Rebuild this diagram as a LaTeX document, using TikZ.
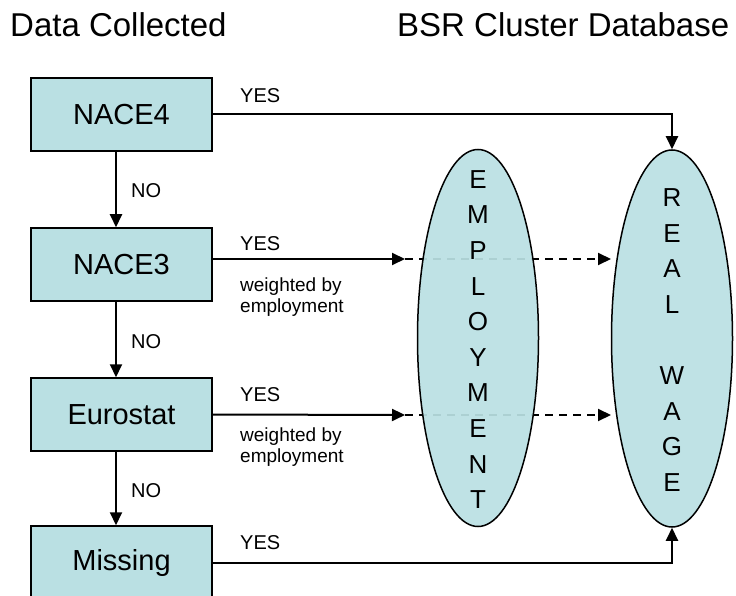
\documentclass[tikz,border=0pt]{standalone}
\usepackage{fontspec}
\setmainfont{Liberation Sans}
\usetikzlibrary{shapes.geometric,arrows.meta,calc}
\definecolor{boxfill}{RGB}{186,224,227}
\begin{document}
\begin{tikzpicture}[x=1pt,y=-1pt,
  srcbox/.style={draw=black,line width=1.5pt,fill=boxfill,minimum width=181pt,minimum height=73pt,inner sep=0pt,font=\fontsize{29}{32}\selectfont},
  oval/.style={draw=black,line width=1.5pt,fill=boxfill,fill opacity=0.93,ellipse,minimum width=121pt,minimum height=377pt,inner sep=0pt},
  arr/.style={line width=2pt,-{Triangle[length=13pt,width=12pt]}},
  darr/.style={arr,dash pattern=on 8pt off 6pt},
  yeslbl/.style={anchor=west,inner sep=0pt,font=\fontsize{20}{24}\selectfont},
  nolbl/.style={anchor=west,inner sep=0pt,font=\fontsize{20}{24}\selectfont},
  wlbl/.style={anchor=west,inner sep=0pt,align=left,font=\fontsize{19}{21}\selectfont},
  vlbl/.style={inner sep=0pt,align=center,font=\fontsize{26}{35.6}\selectfont},
  ttl/.style={anchor=base west,inner sep=0pt,font=\fontsize{33}{36}\selectfont}]
\useasboundingbox (0,0) rectangle (736,596);

% titles
\node[ttl] (t1) at (10,37) {Data Collected};
\node[ttl] (t2) at (397,37) {BSR Cluster Database};

% source boxes
\node[srcbox] (nace4) at (121.5,114.5) {NACE4};
\node[srcbox] (nace3) at (121.5,264.5) {NACE3};
\node[srcbox] (euro) at (121.5,414.5) {Eurostat};
\node[srcbox] (miss) at (121.5,562.5) {Missing};

% free ends of the solid arrows
\coordinate (e3) at (405,259);
\coordinate (e5) at (405,415);

% dashed arrows (drawn below the ovals)
\path (478,338) coordinate (empc) (672,338.5) coordinate (wagec);
\draw[darr] (e3) -- (e3 -| 611,0);
\draw[darr] (e5) -- (e5 -| 611,0);

% ovals
\node[oval] (emp) at (empc) {};
\node[oval] (wage) at (wagec) {};
\node[vlbl] (emptxt) at (478,339.5) {E\\M\\P\\L\\O\\Y\\M\\E\\N\\T};
\node[vlbl] (wagetxt) at (672,340) {R\\E\\A\\L\\[35.6pt]W\\A\\G\\E};

% vertical NO arrows
\draw[arr] ([xshift=-5.5pt]nace4.south) -- ([xshift=-5.5pt]nace3.north);
\draw[arr] ([xshift=-5.5pt]nace3.south) -- ([xshift=-5.5pt]euro.north);
\draw[arr] ([xshift=-5.5pt]euro.south) -- ([xshift=-5.5pt]miss.north);
\node[nolbl] (no1) at (131,191) {NO};
\node[nolbl] (no2) at (131,342) {NO};
\node[nolbl] (no3) at (131,491) {NO};

% YES connectors
\draw[arr] (nace4.east) -| (wage.north);
\draw[arr] ([yshift=5.5pt]nace3.east) -- (e3);
\draw[arr] (euro.east) -- (e5);
\draw[arr] (miss.east) -| (wage.south);

\node[yeslbl] (y1) at (240,96) {YES};
\node[yeslbl] (y2) at (240,244) {YES};
\node[yeslbl] (y3) at (240,395) {YES};
\node[yeslbl] (y4) at (240,543) {YES};
\node[wlbl] (w1) at (240,297) {weighted by\\employment};
\node[wlbl] (w2) at (240,447) {weighted by\\employment};
\end{tikzpicture}
\end{document}
